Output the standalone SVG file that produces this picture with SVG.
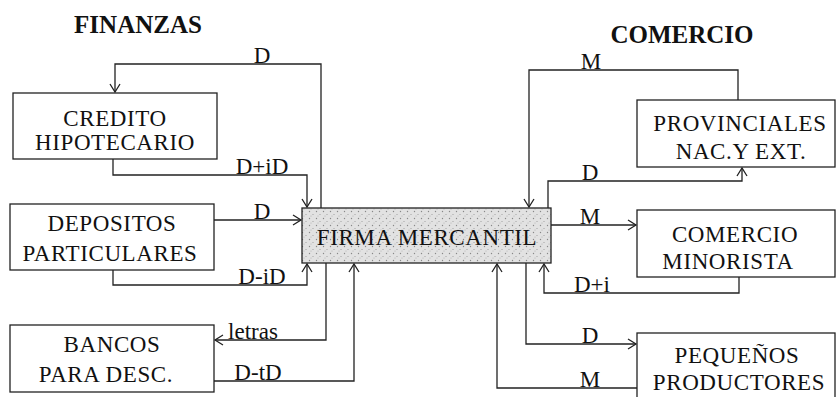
<svg xmlns="http://www.w3.org/2000/svg" width="837" height="397" viewBox="0 0 837 397">
<style>
.box{fill:#fff;stroke:#222;stroke-width:1.3}
.t{font-family:"Liberation Serif","Times New Roman",serif;font-size:23px;fill:#111;text-anchor:middle}
.n{letter-spacing:0.6px}
.title{font-family:"Liberation Serif","Times New Roman",serif;font-size:25px;font-weight:bold;fill:#111;text-anchor:middle}
.c{fill:none;stroke:#222;stroke-width:1.3}
.a{marker-end:url(#arr)}
</style>
<defs>
<marker id="arr" markerUnits="userSpaceOnUse" markerWidth="12" markerHeight="12" refX="9" refY="6" orient="auto">
<path d="M1,1 L9,6 L1,11" fill="none" stroke="#222" stroke-width="1.3"/>
</marker>
<pattern id="stip" width="7" height="7" patternUnits="userSpaceOnUse">
<rect width="7" height="7" fill="#e2e2e2"/>
<circle cx="1.5" cy="1.5" r="0.7" fill="#888"/>
<circle cx="5" cy="4.5" r="0.6" fill="#999"/>
<circle cx="3" cy="6" r="0.5" fill="#aaa"/>
</pattern>
</defs>
<rect width="837" height="397" fill="#fff"/>
<text class="title" x="138" y="33">FINANZAS</text>
<text class="title" x="682" y="43">COMERCIO</text>

<g id="connectors">
<path class="c a" d="M321,208 V64 H115 V92"/>
<text class="t" x="262" y="63">D</text>
<path class="c a" d="M113,159 V175 H307 V207"/>
<text class="t" x="262" y="174">D+iD</text>
<path class="c a" d="M214,220 H301"/>
<text class="t" x="262" y="219">D</text>
<path class="c a" d="M113,270 V285 H307 V264"/>
<text class="t" x="262" y="284">D-iD</text>
<path class="c a" d="M326,263 V340 H215"/>
<text class="t" x="253" y="339">letras</text>
<path class="c a" d="M214,381 H354 V264"/>
<text class="t" x="258" y="380">D-tD</text>
<path class="c a" d="M738,100 V70 H529 V207"/>
<text class="t" x="591" y="69">M</text>
<path class="c a" d="M548,208 V181 H742 V168"/>
<text class="t" x="590" y="180">D</text>
<path class="c a" d="M551,225 H636"/>
<text class="t" x="590" y="224">M</text>
<path class="c a" d="M739,277 V293 H544 V264"/>
<text class="t" x="592" y="292">D+i</text>
<path class="c a" d="M526,263 V344 H636"/>
<text class="t" x="590" y="343">D</text>
<path class="c a" d="M637,388 H497 V264"/>
<text class="t" x="590" y="387">M</text>
</g>

<g id="firma">
<rect x="302" y="208" width="249" height="55" fill="url(#stip)" stroke="#222" stroke-width="1.3"/>
<text class="t n" x="427" y="245">FIRMA MERCANTIL</text>
</g>
<g id="credito">
<rect class="box" x="13" y="93" width="204" height="66"/>
<text class="t n" x="115" y="126">CREDITO</text>
<text class="t n" x="115" y="150">HIPOTECARIO</text>
</g>
<g id="depositos">
<rect class="box" x="10" y="204" width="204" height="66"/>
<text class="t n" x="112" y="231">DEPOSITOS</text>
<text class="t n" x="110" y="261">PARTICULARES</text>
</g>
<g id="bancos">
<rect class="box" x="10" y="325" width="204" height="67"/>
<text class="t n" x="112" y="352">BANCOS</text>
<text class="t n" x="106" y="382">PARA DESC.</text>
</g>
<g id="provinciales">
<rect class="box" x="637" y="100" width="198" height="67"/>
<text class="t n" x="740" y="131">PROVINCIALES</text>
<text class="t n" x="741" y="159">NAC.Y EXT.</text>
</g>
<g id="minorista">
<rect class="box" x="637" y="210" width="198" height="67"/>
<text class="t n" x="735" y="242">COMERCIO</text>
<text class="t n" x="728" y="269">MINORISTA</text>
</g>
<g id="pequenos">
<rect class="box" x="637" y="333" width="198" height="70"/>
<text class="t n" x="737" y="363">PEQUEÑOS</text>
<text class="t n" x="739" y="390">PRODUCTORES</text>
</g>
</svg>
